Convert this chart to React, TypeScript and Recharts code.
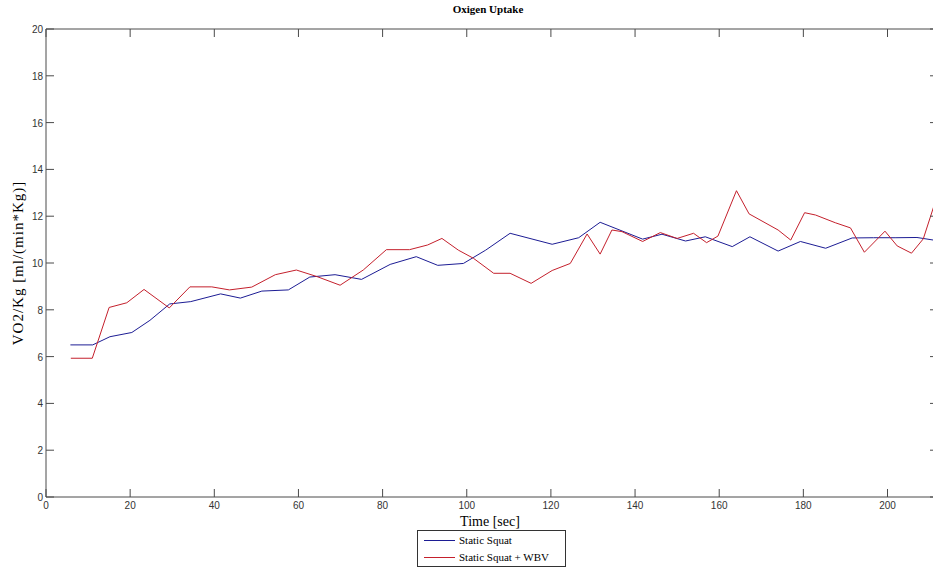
import { LineChart, Line, XAxis, YAxis } from "recharts";

const xTicks = [0, 20, 40, 60, 80, 100, 120, 140, 160, 180, 200];
const yTicks = [0, 2, 4, 6, 8, 10, 12, 14, 16, 18, 20];

// Static Squat
const squatTime = [
  5.8, 11.1, 15.2, 20.4, 24.7, 29.4, 34.4, 41.5, 46.2, 51.3, 57.6, 62.7, 68.7, 75,
  81.8, 88, 93.1, 99.2, 104.5, 110.3, 120.3, 126.6, 131.7, 141.8, 146.4, 152, 156.7,
  163.1, 167.3, 174, 179.3, 185.3, 191.6, 196.7, 201.8, 207, 212,
];
const squatVO2 = [
  6.5, 6.5, 6.85, 7.03, 7.55, 8.25, 8.35, 8.68, 8.5, 8.8, 8.85, 9.4, 9.5, 9.3,
  9.94, 10.27, 9.9, 9.98, 10.55, 11.27, 10.8, 11.08, 11.74, 11.02, 11.23, 10.94, 11.12,
  10.7, 11.12, 10.51, 10.92, 10.63, 11.07, 11.08, 11.08, 11.09, 10.95,
];

// Static Squat + WBV
const wbvTime = [
  5.9, 11, 15, 19.2, 23.3, 29.3, 34.2, 39.4, 43.6, 48.9, 54.5, 59.5, 64.4, 69.9,
  75.4, 80.9, 86.4, 90.7, 94.1, 98, 101.6, 106.4, 110.3, 115.3, 120.3, 124.6, 128.6,
  131.7, 134.5, 136.9, 141.8, 146, 150, 153.9, 157, 159.7, 164.1, 167.1, 174, 177,
  180.3, 182.9, 187.6, 191.2, 194.5, 199.4, 202.3, 205.7, 208.5, 211.5,
];
const wbvVO2 = [
  5.93, 5.93, 8.1, 8.3, 8.87, 8.08, 8.98, 8.98, 8.85, 8.97, 9.5, 9.7, 9.42, 9.05,
  9.7, 10.57, 10.57, 10.77, 11.05, 10.55, 10.2, 9.56, 9.56, 9.13, 9.68, 9.98, 11.24,
  10.38, 11.41, 11.34, 10.92, 11.3, 11.05, 11.27, 10.87, 11.15, 13.09, 12.1, 11.41, 10.98,
  12.15, 12.05, 11.72, 11.5, 10.46, 11.36, 10.73, 10.42, 11.03, 12.7,
];

const squatData = squatTime.map((t, i) => ({ t, v: squatVO2[i] }));
const wbvData = wbvTime.map((t, i) => ({ t, v: wbvVO2[i] }));

const BLUE = "#1c1c94";
const RED = "#c4202c";
const AXIS = "#4a4a4a";
const serif = "'Liberation Serif', 'DejaVu Serif', serif";
const sans = "'Liberation Sans', Arial, sans-serif";

// matlab style ticks: short marks pointing into the plot box
function BottomTick({ x, y, payload }: any) {
  return (
    <g>
      <line x1={x} y1={y} x2={x} y2={y - 8} stroke={AXIS} />
      <text x={x} y={y + 12} textAnchor="middle" fontSize={10} fill="#333" fontFamily={sans}>{payload.value}</text>
    </g>
  );
}
function TopTick({ x, y }: any) {
  return <line x1={x} y1={y} x2={x} y2={y + 8} stroke={AXIS} />;
}
function LeftTick({ x, y, payload }: any) {
  return (
    <g>
      <line x1={x} y1={y} x2={x + 8} y2={y} stroke={AXIS} />
      <text x={x - 3} y={y + 4} textAnchor="end" fontSize={10} fill="#333" fontFamily={sans}>{payload.value}</text>
    </g>
  );
}
function RightTick({ x, y }: any) {
  return <line x1={x} y1={y} x2={x - 8} y2={y} stroke={AXIS} />;
}

export default function App() {
  return (
    <div style={{ position: "relative", width: 933, height: 571, overflow: "hidden", background: "#fff" }}>
      <style>{`body { margin: 0; }`}</style>

      <div style={{ position: "absolute", left: 0, width: 976, top: 3, textAlign: "center", fontFamily: serif, fontWeight: "bold", fontSize: 11, color: "#000" }}>
        Oxigen Uptake
      </div>

      <LineChart width={940} height={571} margin={{ top: 28, right: 0, bottom: 44, left: 0 }}>
        <XAxis
          dataKey="t" type="number" domain={[0, 212]} ticks={xTicks} interval={0}
          allowDataOverflow height={30} tickSize={0} tickMargin={0} tickLine={false}
          stroke={AXIS} tick={<BottomTick />}
        />
        <XAxis
          xAxisId="top" orientation="top" dataKey="t" type="number" domain={[0, 212]}
          ticks={xTicks} interval={0} allowDataOverflow height={1} tickSize={0} tickMargin={0}
          tickLine={false} stroke={AXIS} tick={<TopTick />}
        />
        <YAxis
          type="number" domain={[0, 20]} ticks={yTicks} interval={0} allowDataOverflow
          width={46} tickSize={0} tickMargin={0} tickLine={false} stroke={AXIS} tick={<LeftTick />}
        />
        <YAxis
          yAxisId="right" orientation="right" type="number" domain={[0, 20]} ticks={yTicks}
          interval={0} allowDataOverflow width={2} tickSize={0} tickMargin={0} tickLine={false}
          stroke={AXIS} tick={<RightTick />}
        />
        {/* invisible series so the box axes (top/right) get drawn */}
        <Line xAxisId="top" yAxisId="right" data={squatData} dataKey="v" stroke="none" dot={false} legendType="none" isAnimationActive={false} />
        <Line data={squatData} dataKey="v" name="Static Squat" stroke={BLUE} strokeWidth={1} dot={false} isAnimationActive={false} />
        <Line data={wbvData} dataKey="v" name="Static Squat + WBV" stroke={RED} strokeWidth={1} dot={false} isAnimationActive={false} />
      </LineChart>

      <div style={{ position: "absolute", left: 0, width: 980, top: 514, textAlign: "center", fontFamily: serif, fontSize: 14, color: "#000" }}>
        Time [sec]
      </div>

      <div
        style={{
          position: "absolute", left: 18, top: 263, transform: "translate(-50%, -50%) rotate(-90deg)",
          whiteSpace: "nowrap", fontFamily: serif, fontSize: 15, letterSpacing: 1, color: "#000",
        }}
      >
        VO2/Kg [ml/(min*Kg)]
      </div>

      <svg style={{ position: "absolute", left: 417, top: 530 }} width={150} height={38}>
        <rect x={0.5} y={0.5} width={148} height={36} fill="#fff" stroke="#333" />
        <line x1={7} y1={10.5} x2={38} y2={10.5} stroke={BLUE} />
        <text x={42} y={14} fontSize={11} fontFamily={serif} fill="#000">Static Squat</text>
        <line x1={7} y1={27.5} x2={38} y2={27.5} stroke={RED} />
        <text x={42} y={31} fontSize={11} fontFamily={serif} fill="#000">Static Squat + WBV</text>
      </svg>
    </div>
  );
}
